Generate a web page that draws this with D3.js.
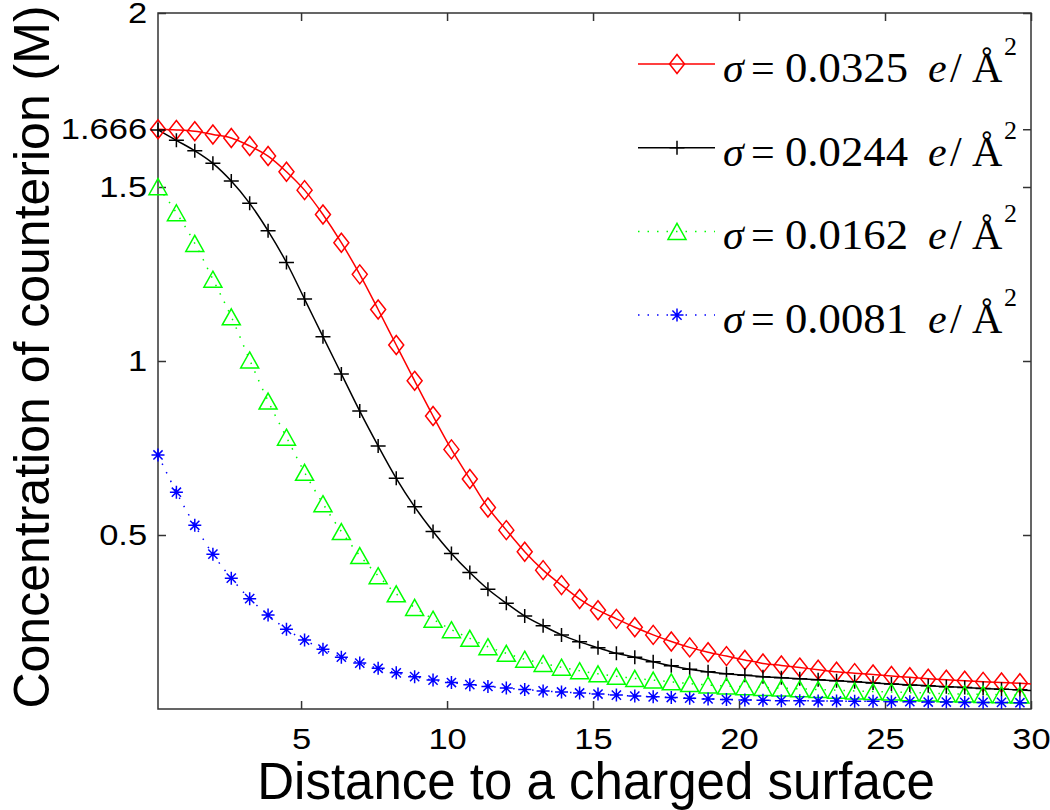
<!DOCTYPE html>
<html>
<head>
<meta charset="utf-8">
<script src="https://cdn.jsdelivr.net/npm/d3@7"></script>
<style>
  html, body { margin: 0; padding: 0; background: #fff; }
  svg { display: block; }
  .tick text { font-family: "Liberation Sans", Arial, sans-serif; fill: #000; }
</style>
</head>
<body>
<svg id="chart" width="1050" height="810"></svg>
<script>
// distance grid where markers are drawn
const distances = [
  0.10, 0.73, 1.36, 1.98, 2.61, 3.24, 3.87, 4.50, 5.12, 5.75,
  6.38, 7.01, 7.64, 8.26, 8.89, 9.52, 10.15, 10.78, 11.40, 12.03,
  12.66, 13.29, 13.92, 14.54, 15.17, 15.80, 16.43, 17.06, 17.68, 18.31,
  18.94, 19.57, 20.20, 20.82, 21.45, 22.08, 22.71, 23.34, 23.96, 24.59,
  25.22, 25.85, 26.48, 27.10, 27.73, 28.36, 28.99, 29.62
];
const lineEndX = 30;

const sigma0325 = [
  1.666, 1.664, 1.660, 1.651, 1.641, 1.618, 1.589, 1.544, 1.491, 1.421,
  1.340, 1.249, 1.148, 1.046, 0.943, 0.842, 0.746, 0.661, 0.579, 0.514,
  0.452, 0.399, 0.356, 0.316, 0.284, 0.259, 0.235, 0.213, 0.194, 0.177,
  0.163, 0.152, 0.141, 0.131, 0.125, 0.119, 0.113, 0.107, 0.103, 0.099,
  0.095, 0.091, 0.087, 0.084, 0.081, 0.078, 0.076, 0.074
];
const sigma0244 = [
  1.664, 1.634, 1.604, 1.568, 1.517, 1.453, 1.374, 1.283, 1.178, 1.070,
  0.963, 0.856, 0.756, 0.663, 0.581, 0.510, 0.447, 0.392, 0.344, 0.304,
  0.267, 0.239, 0.213, 0.193, 0.176, 0.160, 0.149, 0.136, 0.124, 0.114,
  0.107, 0.101, 0.097, 0.093, 0.090, 0.087, 0.084, 0.081, 0.078, 0.075,
  0.072, 0.069, 0.067, 0.064, 0.062, 0.059, 0.057, 0.055
];
const sigma0162 = [
  1.501, 1.426, 1.338, 1.235, 1.127, 1.003, 0.885, 0.781, 0.680, 0.590,
  0.510, 0.441, 0.383, 0.331, 0.292, 0.258, 0.228, 0.203, 0.179, 0.160,
  0.143, 0.131, 0.120, 0.110, 0.101, 0.094, 0.088, 0.083, 0.078, 0.073,
  0.069, 0.066, 0.064, 0.062, 0.060, 0.058, 0.056, 0.054, 0.052, 0.050,
  0.049, 0.047, 0.046, 0.044, 0.043, 0.042, 0.041, 0.040
];
const sigma0081 = [
  0.730, 0.623, 0.528, 0.445, 0.376, 0.317, 0.270, 0.229, 0.198, 0.172,
  0.149, 0.132, 0.117, 0.104, 0.093, 0.083, 0.076, 0.070, 0.065, 0.060,
  0.056, 0.052, 0.049, 0.046, 0.043, 0.040, 0.037, 0.035, 0.033, 0.031,
  0.029, 0.027, 0.026, 0.025, 0.024, 0.024, 0.023, 0.023, 0.022, 0.022,
  0.021, 0.021, 0.020, 0.020, 0.019, 0.019, 0.019, 0.018
];
// value of each curve where it meets the right edge (x = 30)
const lineEndValues = [0.072, 0.053, 0.039, 0.018];

const sigmaLabels = ["0.0325", "0.0244", "0.0162", "0.0081"];
const xTicks = [5, 10, 15, 20, 25, 30];
const yTicks = [0.5, 1, 1.5, 1.666, 2];

const series = [
  { values: sigma0325, color: "#ff0000", dash: null, marker: "diamond" },
  { values: sigma0244, color: "#000000", dash: null, marker: "plus" },
  { values: sigma0162, color: "#00ff00", dash: "1.5 8", marker: "triangle" },
  { values: sigma0081, color: "#0000ff", dash: "1.5 8", marker: "star" },
];

const markerPaths = {
  diamond: "M0,-9.5L7.5,0L0,9.5L-7.5,0Z",
  plus: "M-7.5,0H7.5M0,-7V7",
  triangle: "M0,-8L9,8L-9,8Z",
  star: "M-6.5,0H6.5M0,-6.5V6.5M-4.6,-4.6L4.6,4.6M-4.6,4.6L4.6,-4.6",
};

const svg = d3.select("#chart");
const margin = { top: 13, right: 19, bottom: 101, left: 158 };
const width = 1050, height = 810;

const x = d3.scaleLinear().domain([0.1, 30]).range([margin.left, width - margin.right]);
const y = d3.scaleLinear().domain([0, 2]).range([height - margin.bottom, margin.top]);

// axes (ticks pointing inward, mirrored on top/right)
const fmtY = d => (d === 1.666 ? "1.666" : d3.format("~g")(d));

svg.append("g")
  .attr("transform", `translate(0,${y(0)})`)
  .call(d3.axisBottom(x).tickValues(xTicks).tickSizeInner(-8).tickSizeOuter(0).tickPadding(19))
  .call(g => g.select(".domain").remove())
  .call(g => g.selectAll("text").attr("font-size", 30).attr("transform", "scale(1.15,1)"));

svg.append("g")
  .attr("transform", `translate(0,${y(2)})`)
  .call(d3.axisTop(x).tickValues(xTicks).tickSizeInner(-8).tickSizeOuter(0).tickFormat(""))
  .call(g => g.select(".domain").remove());

svg.append("g")
  .attr("transform", `translate(${x(0.1)},0)`)
  .call(d3.axisLeft(y).tickValues(yTicks).tickSizeInner(-8).tickSizeOuter(0).tickPadding(9.5).tickFormat(fmtY))
  .call(g => g.select(".domain").remove())
  .call(g => g.selectAll("text").attr("font-size", 30).attr("transform", "scale(1.15,1)"));

svg.append("g")
  .attr("transform", `translate(${x(30)},0)`)
  .call(d3.axisRight(y).tickValues(yTicks).tickSizeInner(-8).tickSizeOuter(0).tickFormat(""))
  .call(g => g.select(".domain").remove());

svg.selectAll(".tick line").attr("stroke", "#333").attr("stroke-width", 1.5);

// frame
svg.append("rect")
  .attr("x", x(0.1)).attr("y", y(2))
  .attr("width", x(30) - x(0.1)).attr("height", y(0) - y(2))
  .attr("fill", "none").attr("stroke", "#333").attr("stroke-width", 1.5);

// curves
const line = d3.line()
  .x(d => x(d[0]))
  .y(d => y(d[1]))
  .curve(d3.curveMonotoneX);

series.forEach((s, i) => {
  const pts = distances.map((d, j) => [d, s.values[j]]);
  pts.push([lineEndX, lineEndValues[i]]);
  svg.append("path")
    .datum(pts)
    .attr("fill", "none")
    .attr("stroke", s.color)
    .attr("stroke-width", 1.5)
    .attr("stroke-dasharray", s.dash)
    .attr("d", line);
});

series.forEach(s => {
  svg.append("g")
    .selectAll("path")
    .data(distances.map((d, j) => [d, s.values[j]]))
    .join("path")
    .attr("transform", d => `translate(${x(d[0])},${y(d[1])})`)
    .attr("d", markerPaths[s.marker])
    .attr("fill", "none")
    .attr("stroke", s.color)
    .attr("stroke-width", 1.5);
});

// legend
const legend = svg.append("g").attr("transform", "translate(638,64)");
const rowGap = 83.7;
series.forEach((s, i) => {
  const row = legend.append("g").attr("transform", `translate(0,${i * rowGap})`);
  row.append("line")
    .attr("x1", 0).attr("x2", 77)
    .attr("stroke", s.color).attr("stroke-width", 1.5)
    .attr("stroke-dasharray", s.dash);
  row.append("path")
    .attr("transform", "translate(39,0)")
    .attr("d", markerPaths[s.marker])
    .attr("fill", "none").attr("stroke", s.color).attr("stroke-width", 1.5);

  const t = row.append("g")
    .attr("transform", "translate(85,18)")
    .attr("font-family", "'Liberation Serif', 'Times New Roman', serif")
    .attr("font-size", 42)
    .attr("fill", "#000");
  t.append("text").attr("x", 0).attr("font-style", "italic").text("σ");
  t.append("text").attr("x", 28).text("=");
  t.append("text").attr("x", 62).attr("textLength", 123).attr("lengthAdjust", "spacingAndGlyphs").text(sigmaLabels[i]);
  t.append("text").attr("x", 205).attr("font-style", "italic").text("e");
  t.append("text").attr("x", 227).text("/");
  t.append("text").attr("x", 249).text("Å");
  t.append("text").attr("x", 281).attr("y", -27).attr("font-size", 26).text("2");
});

// axis titles
svg.append("text")
  .attr("x", 596)
  .attr("y", 799)
  .attr("text-anchor", "middle")
  .attr("font-family", "'Liberation Sans', Arial, sans-serif")
  .attr("font-size", 51)
  .text("Distance to a charged surface");

svg.append("text")
  .attr("transform", `translate(49,357) rotate(-90)`)
  .attr("text-anchor", "middle")
  .attr("font-family", "'Liberation Sans', Arial, sans-serif")
  .attr("font-size", 50)
  .text("Concentration of counterion (M)");
</script>
</body>
</html>
